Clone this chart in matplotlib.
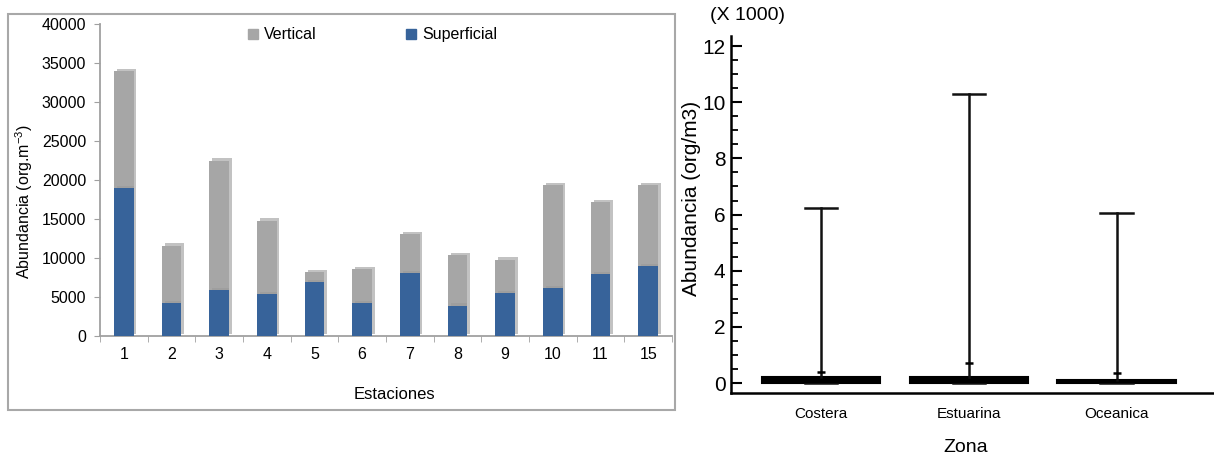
import numpy as np
import matplotlib
matplotlib.use('Agg')
import matplotlib.pyplot as plt
import matplotlib.patheffects as pe
from matplotlib.patches import Rectangle, Patch
from matplotlib.ticker import MultipleLocator

plt.rcParams['font.family'] = ['Liberation Sans', 'DejaVu Sans']
plt.rcParams['mathtext.default'] = 'regular'

# data, left panel (stacked bars)
estaciones = ['1', '2', '3', '4', '5', '6', '7', '8', '9', '10', '11', '15']
superficial = [19000, 4200, 5900, 5400, 6900, 4200, 8100, 3900, 5500, 6200, 8000, 9000]
vertical = [15000, 7400, 16600, 9400, 1300, 4400, 5000, 6500, 4300, 13100, 9200, 10300]

# data, right panel (box-whisker, x 1000)
zonas = ['Costera', 'Estuarina', 'Oceanica']
q1 = [0.0, 0.0, 0.0]
q3 = [0.2, 0.2, 0.12]
medianas = [0.05, 0.05, 0.04]
minimos = [0.0, 0.0, 0.0]
maximos = [6.25, 10.3, 6.05]
medias = [0.4, 0.7, 0.35]

W, H = 1214, 459
fig = plt.figure(figsize=(W / 100, H / 100), dpi=100)

# frame around left chart
fig.patches.append(Rectangle((8 / W, 1 - 410 / H), (675 - 8) / W, (410 - 14) / H,
                             transform=fig.transFigure, fill=False,
                             edgecolor='#a8a8a8', linewidth=1.5))

# ---- left chart
ax = fig.add_axes([100 / W, (H - 336) / H, (672 - 100) / W, (336 - 24) / H])
x = np.arange(1, len(estaciones) + 1)
shadow = [pe.SimplePatchShadow(offset=(2, 1.5), shadow_rgbFace='#9a9a9a', alpha=0.6), pe.Normal()]
b1 = ax.bar(x, superficial, 0.41, color='#37639a', zorder=3)
b2 = ax.bar(x, vertical, 0.41, bottom=superficial, color='#a6a6a6', zorder=2)
for r in list(b1) + list(b2):
    r.set_path_effects(shadow)

ax.set_xlim(0.5, len(estaciones) + 0.5)
ax.set_ylim(0, 40000)
ax.set_yticks(np.arange(0, 40001, 5000))
ax.set_xticks(x)
ax.set_xticklabels(estaciones)
ax.set_xticks(np.arange(0.5, len(estaciones) + 1, 1), minor=True)
ax.tick_params(axis='x', which='major', length=0, pad=8, labelsize=11.5)
ax.tick_params(axis='x', which='minor', length=4, color='#a0a0a0')
ax.tick_params(axis='y', length=4, color='#a0a0a0', labelsize=11.5, pad=6)
for s in ['top', 'right']:
    ax.spines[s].set_visible(False)
for s in ['left', 'bottom']:
    ax.spines[s].set_color('#a0a0a0')
    ax.spines[s].set_linewidth(1.3)
ax.set_ylabel('Abundancia (org.m$^{-3}$)', fontsize=11.5)
ax.yaxis.set_label_coords(-0.113, 0.43)
ax.set_xlabel('Estaciones', fontsize=12)
ax.xaxis.set_label_coords(0.515, -0.165)
handles = [Patch(color='#a6a6a6', label='Vertical'), Patch(color='#37639a', label='Superficial')]
leg = ax.legend(handles=handles, loc='upper center', bbox_to_anchor=(0.477, 1.035),
                ncol=2, frameon=False, handlelength=0.6, handleheight=0.6,
                handletextpad=0.4, columnspacing=5.6, fontsize=11.5)

# ---- right chart
ax2 = fig.add_axes([731 / W, (H - 393) / H, (W - 731) / W, (393 - 36) / H])
stats = []
for i in range(len(zonas)):
    stats.append({'label': zonas[i], 'q1': q1[i], 'q3': q3[i], 'med': medianas[i],
                  'whislo': minimos[i], 'whishi': maximos[i], 'mean': medias[i]})
ax2.bxp(stats, positions=[1, 2, 3], widths=0.8, showmeans=True, showfliers=False,
        patch_artist=True, capwidths=0.22,
        boxprops=dict(facecolor='black', edgecolor='black', linewidth=1.5),
        medianprops=dict(color='black', linewidth=1),
        whiskerprops=dict(color='#111111', linewidth=1.8),
        capprops=dict(color='#111111', linewidth=1.8),
        meanprops=dict(marker='_', markeredgecolor='black', markersize=6, markeredgewidth=1.8))
ax2.set_xlim(0.39, 3.66)
ax2.set_ylim(-0.356, 12.36)
ax2.yaxis.set_major_locator(MultipleLocator(2))
ax2.yaxis.set_minor_locator(MultipleLocator(0.5))
ax2.tick_params(axis='y', which='major', direction='in', length=8, width=1.5,
                labelsize=15, pad=4)
ax2.tick_params(axis='y', which='minor', direction='in', length=5, width=1.3)
ax2.tick_params(axis='x', length=0, labelsize=11, pad=10)
for s in ['top', 'right']:
    ax2.spines[s].set_visible(False)
for s in ['left', 'bottom']:
    ax2.spines[s].set_linewidth(1.8)
ax2.set_ylabel('Abundancia (org/m3)', fontsize=15)
ax2.yaxis.set_label_coords(-0.062, 0.546)
ax2.set_xlabel('Zona', fontsize=14)
ax2.xaxis.set_label_coords(0.485, -0.13)
fig.text(710 / W, 1 - 16 / H, '(X 1000)', fontsize=14, va='center', ha='left')

fig.savefig('out.png', dpi=100)
